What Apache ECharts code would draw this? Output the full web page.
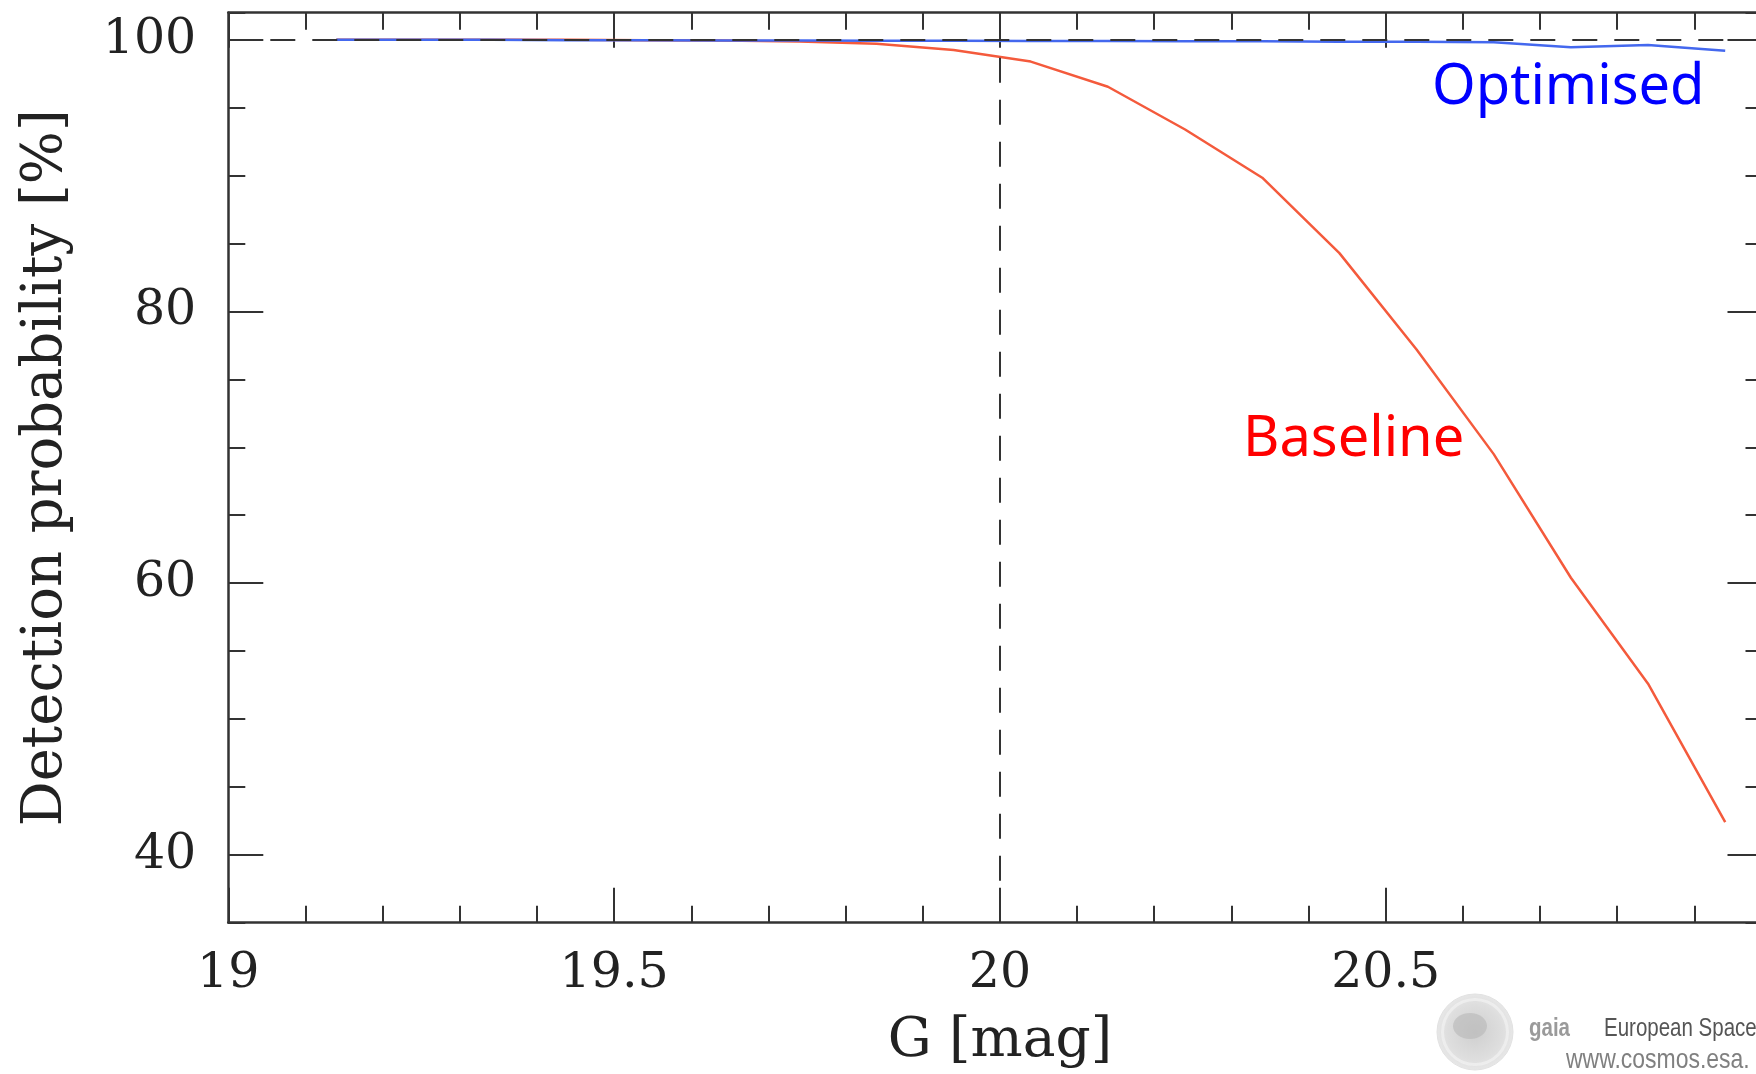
<!DOCTYPE html>
<html>
<head>
<meta charset="utf-8">
<title>Detection probability vs G</title>
<script src="https://cdn.jsdelivr.net/npm/echarts@6/dist/echarts.min.js"></script>
<style>
  html, body { margin: 0; padding: 0; background: #fff; }
  #chart { width: 1756px; height: 1074px; }
</style>
</head>
<body>
<div id="chart"></div>
<script>
// G magnitude bin centres
const magnitudes = [19.14, 19.24, 19.34, 19.44, 19.54, 19.64, 19.74, 19.84, 19.94, 20.04,
                    20.14, 20.24, 20.34, 20.44, 20.54, 20.64, 20.74, 20.84, 20.94];
// detection probability [%] for the baseline configuration
const baselinePct = [100, 100, 100, 100, 99.98, 99.95, 99.88, 99.72, 99.26, 98.4,
                     96.55, 93.4, 89.85, 84.3, 77.2, 69.5, 60.4, 52.6, 42.4];
// detection probability [%] for the optimised configuration
const optimisedPct = [100, 100, 100, 99.98, 99.97, 99.96, 99.95, 99.94, 99.93, 99.92,
                      99.91, 99.9, 99.89, 99.87, 99.86, 99.83, 99.46, 99.62, 99.2];
// labelled y ticks
const yMajorTicks = [40, 60, 80, 100];
// reference levels drawn as dashed lines
const refMagnitude = 20;
const refPercent = 100;

const AXIS = '#333';
const TEXT = '#222';
const SERIF = '"DejaVu Serif", "Liberation Serif", serif';
const NARROW = '"Liberation Sans", Arial, sans-serif';

const pairs = (xs, ys) => xs.map((x, i) => [x, ys[i]]);

const xBase = {
  type: 'value', min: 19, max: 21, interval: 0.5,
  splitLine: { show: false }, minorSplitLine: { show: false },
  axisLine: { show: true, lineStyle: { color: AXIS, width: 2.5 } },
  axisTick: { show: true, inside: true, length: 35, lineStyle: { color: AXIS, width: 2 } },
  minorTick: { show: true, splitNumber: 5, length: 17, lineStyle: { color: AXIS, width: 2 } }
};

const yBase = {
  type: 'value', min: 35, max: 102, interval: 5,
  splitLine: { show: false }, minorSplitLine: { show: false }
};

// horizontally condensed caption text, anchored at its left/middle
const caption = (x, y, text, font, fill, squeeze) => ({
  type: 'text', silent: true, z: 10, x: x, y: y, scaleX: squeeze, scaleY: 1,
  style: { x: 0, y: 0, text: text, font: font, fill: fill,
           textAlign: 'left', textVerticalAlign: 'middle' }
});

const chart = echarts.init(document.getElementById('chart'), null, { renderer: 'canvas' });

chart.setOption({
  animation: false,
  backgroundColor: '#fff',
  grid: { left: 228.3, top: 12.7, width: 1543.2, height: 910, outerBoundsMode: 'none' },
  xAxis: [
    Object.assign({}, xBase, {
      position: 'bottom',
      axisLabel: {
        show: true, margin: 27, showMaxLabel: false,
        fontFamily: SERIF, fontSize: 49, color: TEXT
      },
      name: 'G [mag]', nameLocation: 'middle', nameGap: 92,
      nameTextStyle: { fontFamily: SERIF, fontSize: 55, color: TEXT }
    }),
    Object.assign({}, xBase, {
      position: 'top',
      axisLabel: { show: false }
    })
  ],
  yAxis: [
    Object.assign({}, yBase, {
      position: 'left',
      axisLine: { show: true, lineStyle: { color: AXIS, width: 2.5 } },
      axisTick: { show: true, inside: true, length: 35, customValues: yMajorTicks,
                  lineStyle: { color: AXIS, width: 2 } },
      axisLabel: { show: true, margin: 32, customValues: yMajorTicks,
                   fontFamily: SERIF, fontSize: 49, color: TEXT },
      name: 'Detection probability [%]', nameLocation: 'middle', nameGap: 154,
      nameTextStyle: { fontFamily: SERIF, fontSize: 56, color: TEXT }
    }),
    Object.assign({}, yBase, {
      position: 'left',
      axisLine: { show: false },
      axisTick: { show: true, inside: true, length: 17, lineStyle: { color: AXIS, width: 2 } },
      axisLabel: { show: false }
    }),
    Object.assign({}, yBase, {
      position: 'right',
      axisLine: { show: true, lineStyle: { color: AXIS, width: 2.5 } },
      axisTick: { show: true, inside: true, length: 44, customValues: yMajorTicks,
                  lineStyle: { color: AXIS, width: 2 } },
      axisLabel: { show: false }
    }),
    Object.assign({}, yBase, {
      position: 'right',
      axisLine: { show: false },
      axisTick: { show: true, inside: true, length: 26, lineStyle: { color: AXIS, width: 2 } },
      axisLabel: { show: false }
    })
  ],
  series: [
    {
      name: 'Baseline', type: 'line', xAxisIndex: 0, yAxisIndex: 0,
      data: pairs(magnitudes, baselinePct),
      showSymbol: false, symbol: 'none', smooth: false,
      lineStyle: { color: '#f45a3c', width: 2.5 },
      z: 2
    },
    {
      name: 'Optimised', type: 'line', xAxisIndex: 0, yAxisIndex: 0,
      data: pairs(magnitudes, optimisedPct),
      showSymbol: false, symbol: 'none', smooth: false,
      lineStyle: { color: '#4468ee', width: 2.5 },
      z: 3,
      markLine: {
        silent: true, symbol: ['none', 'none'], animation: false,
        label: { show: false },
        lineStyle: { color: AXIS, width: 2, type: [25, 17] },
        emphasis: { disabled: true },
        data: [{ yAxis: refPercent }, { xAxis: refMagnitude }]
      }
    }
  ],
  graphic: [
    { type: 'text', silent: true, z: 10,
      style: { x: 1432, y: 88, text: 'Optimised', fill: '#0000ff',
               font: '56px "Noto Sans", sans-serif', textAlign: 'left', textVerticalAlign: 'middle' } },
    { type: 'text', silent: true, z: 10,
      style: { x: 1243, y: 440, text: 'Baseline', fill: '#ff0000',
               font: '56px "Noto Sans", sans-serif', textAlign: 'left', textVerticalAlign: 'middle' } },
    // mission badge
    { type: 'circle', silent: true, z: 10,
      shape: { cx: 1475, cy: 1032, r: 38 },
      style: { fill: new echarts.graphic.RadialGradient(0.5, 0.5, 0.6, [
        { offset: 0, color: '#cfcfcf' }, { offset: 0.6, color: '#dedede' }, { offset: 1, color: '#eeeeee' }
      ]), stroke: '#e2e2e2', lineWidth: 1 } },
    { type: 'ellipse', silent: true, z: 11,
      shape: { cx: 1470, cy: 1026, rx: 17, ry: 13 },
      style: { fill: '#b8b8b8', opacity: 0.6 } },
    { type: 'ring', silent: true, z: 11,
      shape: { cx: 1475, cy: 1032, r: 34, r0: 31 },
      style: { fill: '#f2f2f2', opacity: 0.7 } },
    caption(1529, 1029, 'gaia', 'bold 25px ' + NARROW, '#9a9a9a', 0.82),
    caption(1604, 1029, 'European Space', '25px ' + NARROW, '#555', 0.82),
    caption(1566, 1060, 'www.cosmos.esa.', '28px ' + NARROW, '#808080', 0.82)
  ]
});
</script>
</body>
</html>
